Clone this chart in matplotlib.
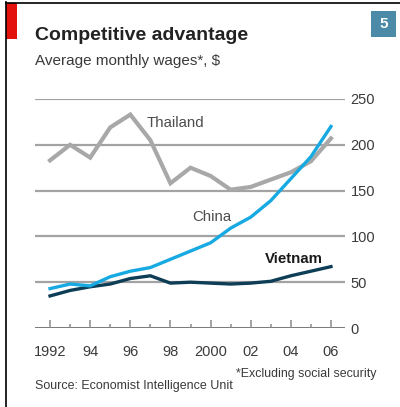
import matplotlib
matplotlib.use("Agg")
import matplotlib.pyplot as plt
from matplotlib.lines import Line2D
from matplotlib.patches import Rectangle

# Average monthly wages, US$
years = list(range(1992, 2007))
thailand = [183, 200, 186, 219, 233, 205, 158, 175, 166, 151, 154, 162, 170, 182, 207]
china = [43, 48, 46, 56, 62, 66, 75, 84, 93, 109, 121, 139, 163, 187, 220]
vietnam = [35, 41, 45, 48, 54, 57, 49, 50, 49, 48, 49, 51, 57, 62, 67]

y_ticks = [0, 50, 100, 150, 200, 250]
x_ticks = [1992, 1994, 1996, 1998, 2000, 2002, 2004, 2006]
x_labels = ["1992", "94", "96", "98", "2000", "02", "04", "06"]

W, H = 400, 407
FONT = ["Liberation Sans", "DejaVu Sans"]
plt.rcParams["font.family"] = FONT

fig = plt.figure(figsize=(W / 100, H / 100), dpi=100)
fig.patch.set_facecolor("white")


def fx(px):
    return px / W


def fy(py):
    return 1 - py / H


# plot area: x 35..345 px, y 99..328 px
ax = fig.add_axes([fx(35), fy(328), fx(345) - fx(35), fy(99) - fy(328)])
ax.set_xlim(1991.25, 2006.70)
ax.set_ylim(0, 250)
for s in ax.spines.values():
    s.set_visible(False)

for v in y_ticks[1:]:
    ax.axhline(v, color="#a3a3a3", lw=1.6, zorder=1)
ax.axhline(0, color="#6e6e6e", lw=1.3, zorder=1)

grey_c = "#a8a8a8"
china_c = "#17a9e1"
viet_c = "#0e3d56"
ax.plot(years, thailand, color=grey_c, lw=3.0, solid_joinstyle="miter", zorder=3, clip_on=False)
ax.plot(years, vietnam, color=viet_c, lw=2.4, zorder=4, clip_on=False)
ax.plot(years, china, color=china_c, lw=2.4, zorder=5, clip_on=False)

# year ticks pointing up from the baseline
ax.set_xticks(x_ticks)
ax.set_xticklabels(x_labels)
ax.set_xticks(years, minor=True)
ax.tick_params(axis="x", which="major", direction="in", length=6, width=1.1,
               color="#8a8a8a", pad=12, labelsize=10.5, labelcolor="#3a3a3a")
ax.tick_params(axis="x", which="minor", direction="in", length=3, width=1.1,
               color="#8a8a8a")

ax.yaxis.tick_right()
ax.set_yticks(y_ticks)
ax.set_yticklabels([str(v) for v in y_ticks])
ax.tick_params(axis="y", length=0, pad=4, labelsize=10.5, labelcolor="#3a3a3a")

# series labels
ax.text(1996.83, 219.4, "Thailand", fontsize=10.8, color="#4d4d4d", va="baseline", ha="left")
ax.text(1999.07, 117, "China", fontsize=10.8, color="#4d4d4d", va="baseline", ha="left")
ax.text(2002.71, 71.3, "Vietnam", fontsize=10.8, fontweight="bold", color="#1a1a1a",
        va="baseline", ha="left")

# frame and header
fig.add_artist(Line2D([fx(6), 1], [fy(2.5), fy(2.5)], color="black", lw=1.2))
fig.add_artist(Line2D([fx(5.5), fx(5.5)], [fy(2), 0], color="black", lw=1.2))
fig.add_artist(Rectangle((fx(6), fy(39)), fx(17) - fx(6), fy(3) - fy(39),
                         facecolor="#e3120b", edgecolor="none"))
fig.add_artist(Rectangle((fx(371), fy(37)), fx(396) - fx(371), fy(11) - fy(37),
                         facecolor="#4b8ba7", edgecolor="none"))
fig.text(fx(383.5), fy(24), "5", color="white", fontsize=11, fontweight="bold",
         ha="center", va="center")

fig.text(fx(35), fy(39.5), "Competitive advantage", fontsize=14, fontweight="bold",
         color="#222222", va="baseline", ha="left")
fig.text(fx(35), fy(65), "Average monthly wages*, $", fontsize=11, color="#3a3a3a",
         va="baseline", ha="left")
fig.text(fx(376), fy(377), "*Excluding social security", fontsize=8.9, color="#3a3a3a",
         va="baseline", ha="right")
fig.text(fx(35), fy(389), "Source: Economist Intelligence Unit", fontsize=9, color="#3a3a3a",
         va="baseline", ha="left")

fig.savefig("out.png", dpi=100)
